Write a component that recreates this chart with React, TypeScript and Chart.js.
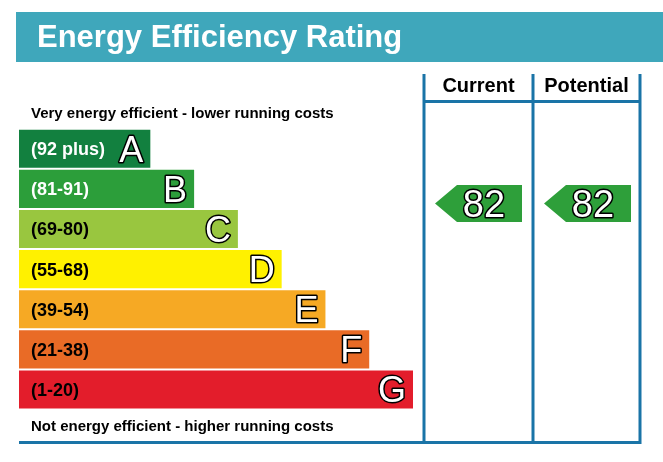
import React, { useEffect, useRef } from "react";
import { Chart, registerables } from "chart.js";

Chart.register(...registerables);

const bandLetters = ["A", "B", "C", "D", "E", "F", "G"];
const bandLabels = ["(92 plus)", "(81-91)", "(69-80)", "(55-68)", "(39-54)", "(21-38)", "(1-20)"];
const bandMin = [92, 81, 69, 55, 39, 21, 1];
const bandMax = [100, 91, 80, 68, 54, 38, 20];
const barLengths = [3, 4, 5, 6, 7, 8, 9];
const bandColors = ["#12803f", "#2c9e3a", "#99c63f", "#fff100", "#f6a924", "#e96b26", "#e31d2b"];
const labelColors = ["#ffffff", "#ffffff", "#000000", "#000000", "#000000", "#000000", "#000000"];
const columnTitles = ["Current", "Potential"];
const ratings = [82, 82];

const TITLE = "Energy Efficiency Rating";
const TOP_NOTE = "Very energy efficient - lower running costs";
const BOTTOM_NOTE = "Not energy efficient - higher running costs";
const FONT = '"Liberation Sans", Arial, Helvetica, sans-serif';
const FRAME = "#1a74a7";
const TEAL = "#3fa7bb";
const ARROW = "#2e9f3a";

function bandIndexFor(score: number): number {
  for (let i = 0; i < bandMin.length; i++) {
    if (score >= bandMin[i]) {
      const mid = (bandMin[i] + bandMax[i]) / 2;
      return i + (mid - score) / (bandMax[i] - bandMin[i] + 1);
    }
  }
  return bandMin.length - 1;
}

const epcPlugin = {
  id: "epc",
  afterDraw(chart: any) {
    const ctx = chart.ctx as CanvasRenderingContext2D;
    const xs = chart.scales.x;
    const ys = chart.scales.y;
    ctx.save();

    // Title bar
    ctx.fillStyle = TEAL;
    ctx.fillRect(16, 12, 663 - 16, 50);
    ctx.fillStyle = "#ffffff";
    ctx.font = `bold 31px ${FONT}`;
    ctx.textBaseline = "alphabetic";
    ctx.textAlign = "left";
    ctx.fillText(TITLE, 37, 47);

    // Notes
    ctx.fillStyle = "#000000";
    ctx.font = `bold 15px ${FONT}`;
    ctx.fillText(TOP_NOTE, 31, 117.5);
    ctx.fillText(BOTTOM_NOTE, 31, 431);

    // Bar labels and letters
    for (let i = 0; i < bandLetters.length; i++) {
      const cy = ys.getPixelForValue(i);
      const xEnd = xs.getPixelForValue(barLengths[i]);
      ctx.font = `bold 18px ${FONT}`;
      ctx.fillStyle = labelColors[i];
      ctx.textAlign = "left";
      ctx.fillText(bandLabels[i], 31, cy + 6.5);

      ctx.font = `36px ${FONT}`;
      ctx.textAlign = "right";
      ctx.lineJoin = "round";
      ctx.lineWidth = 3;
      ctx.strokeStyle = "#000000";
      ctx.strokeText(bandLetters[i], xEnd - 7, cy + 13);
      ctx.fillStyle = "#ffffff";
      ctx.fillText(bandLetters[i], xEnd - 7, cy + 13);
    }

    // Frame
    const cols = [424, 533, 640];
    ctx.strokeStyle = FRAME;
    ctx.lineWidth = 3;
    ctx.beginPath();
    for (const cx of cols) {
      ctx.moveTo(cx, 74);
      ctx.lineTo(cx, 444);
    }
    ctx.moveTo(424, 101.5);
    ctx.lineTo(640, 101.5);
    ctx.moveTo(19, 442.5);
    ctx.lineTo(641.5, 442.5);
    ctx.stroke();

    // Column titles
    ctx.fillStyle = "#000000";
    ctx.font = `bold 20px ${FONT}`;
    ctx.textAlign = "center";
    for (let c = 0; c < columnTitles.length; c++) {
      ctx.fillText(columnTitles[c], (cols[c] + cols[c + 1]) / 2, 92);
    }

    // Rating arrows
    for (let c = 0; c < ratings.length; c++) {
      const cy = ys.getPixelForValue(bandIndexFor(ratings[c]));
      const left = cols[c] + 11;
      const right = cols[c] + 98;
      const h = 37;
      const tip = 22;
      ctx.fillStyle = ARROW;
      ctx.beginPath();
      ctx.moveTo(left, cy);
      ctx.lineTo(left + tip, cy - h / 2);
      ctx.lineTo(right, cy - h / 2);
      ctx.lineTo(right, cy + h / 2);
      ctx.lineTo(left + tip, cy + h / 2);
      ctx.closePath();
      ctx.fill();

      ctx.font = `38px ${FONT}`;
      ctx.textAlign = "center";
      ctx.lineWidth = 3;
      ctx.strokeStyle = "#000000";
      const tx = cols[c] + 60;
      ctx.strokeText(String(ratings[c]), tx, cy + 13.5);
      ctx.fillStyle = "#ffffff";
      ctx.fillText(String(ratings[c]), tx, cy + 13.5);
    }

    ctx.restore();
  },
};

export default function App() {
  const ref = useRef<HTMLCanvasElement>(null);
  useEffect(() => {
    if (!ref.current) return;
    const chart = new Chart(ref.current, {
      type: "bar",
      data: {
        labels: bandLetters,
        datasets: [
          {
            data: barLengths,
            backgroundColor: bandColors,
            borderWidth: 0,
            barPercentage: 0.95,
            categoryPercentage: 1,
          },
        ],
      },
      options: {
        indexAxis: "y",
        responsive: false,
        animation: false,
        layout: { padding: { left: 19, right: 250, top: 128.7, bottom: 52.5 } },
        scales: {
          x: { display: false, min: 0, max: 9 },
          y: { display: false },
        },
        plugins: { legend: { display: false }, tooltip: { enabled: false } },
      },
      plugins: [epcPlugin],
    });
    return () => chart.destroy();
  }, []);
  return (
    <div style={{ position: "absolute", left: 0, top: 0, width: 663, height: 462, background: "#ffffff" }}>
      <canvas ref={ref} width={663} height={462} style={{ display: "block" }} />
    </div>
  );
}
